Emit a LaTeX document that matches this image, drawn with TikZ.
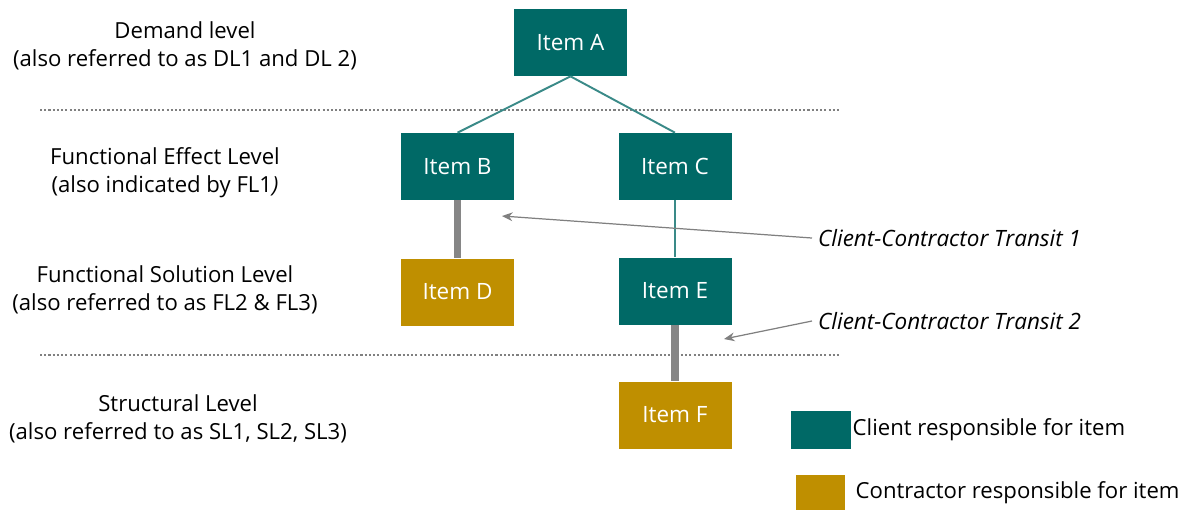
\documentclass[tikz,border=0pt]{standalone}
\usepackage{fontspec}
\setmainfont{Open Sans}
\usepackage{xcolor}
\usetikzlibrary{arrows.meta}
\definecolor{clientteal}{RGB}{0,105,102}
\definecolor{contrgold}{RGB}{191,143,0}
\definecolor{linkteal}{RGB}{58,138,136}
\begin{document}
\begin{tikzpicture}[x=0.02cm,y=-0.02cm,
  itembox/.style={minimum width=2.26cm,minimum height=1.34cm,inner sep=0pt,text=white,font=\fontsize{12.8}{14}\selectfont},
  client/.style={itembox,fill=clientteal},
  contractor/.style={itembox,fill=contrgold},
  leveltext/.style={align=center,font=\fontsize{12.6}{16}\selectfont},
  levelline/.style={gray,line width=0.6pt,dash pattern=on 1.2pt off 1.2pt},
  thinlink/.style={linkteal,line width=1.1pt},
  thicklink/.style={gray!95,line width=4pt},
  pointer/.style={gray,line width=0.7pt,-{Stealth[length=6pt,width=5pt]}}]
\useasboundingbox (0,0) rectangle (1192,512);

% levels
\node[leveltext] (dl) at (185,46) {Demand level\\(also referred to as DL1 and DL 2)};
\node[leveltext] (fel) at (165,173) {Functional Effect Level\\(also indicated by FL1\textit{)}};
\node[leveltext] (fsl) at (165,290) {Functional Solution Level\\(also referred to as FL2 \& FL3)};
\node[leveltext] (sl) at (178,419) {Structural Level\\(also referred to as SL1, SL2, SL3)};

\coordinate (l1a) at (40,110);
\coordinate (l1b) at (840,110);
\coordinate (l2a) at (40,355);
\coordinate (l2b) at (840,355);
\draw[levelline] (l1a) -- (l1b);
\draw[levelline] (l2a) -- (l2b);

% items
\node[client] (a) at (570.5,42.5) {Item A};
\node[client] (b) at (457.5,166.5) {Item B};
\node[client] (c) at (675,166.5) {Item C};
\node[contractor] (d) at (457.5,292) {Item D};
\node[client] (e) at (675,291) {Item E};
\node[contractor] (f) at (675,415) {Item F};

\draw[thinlink] (a.south) -- (b.north);
\draw[thinlink] (a.south) -- (c.north);
\draw[thinlink] (c.south) -- (e.north);
\draw[thicklink] (b.south) -- (d.north);
\draw[thicklink] (e.south) -- (f.north);

% transits
\node[anchor=west,font=\fontsize{12.8}{14}\selectfont\itshape] (t1) at (812,238) {Client-Contractor Transit 1};
\node[anchor=west,font=\fontsize{12.8}{14}\selectfont\itshape] (t2) at (812,321) {Client-Contractor Transit 2};
\coordinate (p1) at (502,216);
\coordinate (p2) at (724,339);
\draw[pointer] (t1.west) -- (p1);
\draw[pointer] (t2.west) -- (p2);

% legend
\node[fill=clientteal,minimum width=1.2cm,minimum height=0.76cm,inner sep=0pt] (kc) at (821,430) {};
\node[fill=contrgold,minimum width=0.98cm,minimum height=0.7cm,inner sep=0pt] (kg) at (820.5,492.5) {};
\node[anchor=west,inner sep=0pt,font=\fontsize{12.6}{14}\selectfont] (kct) at ([xshift=0.02cm]kc.east) {Client responsible for item};
\node[anchor=west,inner sep=0pt,font=\fontsize{12.6}{14}\selectfont] (kgt) at ([xshift=0.2cm]kg.east) {Contractor responsible for item};
\end{tikzpicture}
\end{document}
